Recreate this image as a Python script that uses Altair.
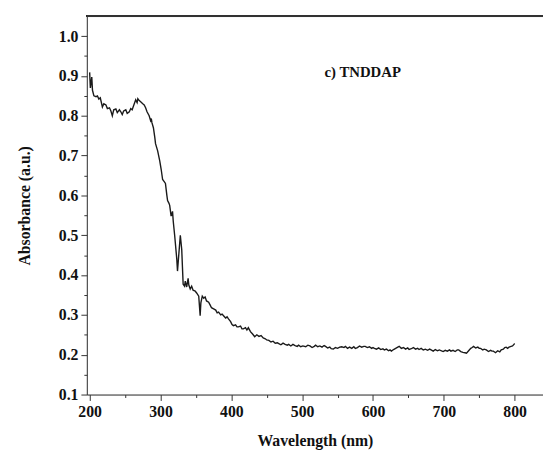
import altair as alt
import pandas as pd

wavelength = [200, 201, 203, 204, 206, 209, 211, 213, 215, 218, 220, 223, 225, 228, 230, 232, 234, 237, 239, 242,
              244, 246, 248, 251, 253, 256, 258, 260, 263, 265, 267, 268, 270, 272, 275, 277, 279, 281, 284, 286,
              287, 288, 290, 292, 293, 296, 299, 301, 303, 305, 307, 309, 310, 312, 313, 315, 317, 318, 320, 321,
              323, 324, 326, 328, 330, 331, 332, 334, 335, 337, 339, 340, 342, 344, 346, 349, 351, 354, 356, 357,
              359, 361, 363, 365, 368, 370, 372, 375, 378, 380, 382, 385, 387, 389, 392, 394, 396, 399, 401, 403,
              406, 408, 410, 413, 415, 417, 420, 422, 424, 427, 430, 433, 436, 439, 442, 445, 448, 450, 453, 456,
              459, 462, 465, 467, 470, 473, 476, 479, 481, 484, 487, 490, 493, 495, 498, 501, 505, 508, 511, 514,
              517, 519, 522, 525, 528, 531, 533, 536, 539, 541, 544, 547, 550, 553, 556, 559, 561, 564, 567, 570,
              573, 575, 578, 581, 584, 587, 589, 592, 595, 598, 600, 602, 605, 608, 611, 614, 616, 619, 622, 624,
              626, 629, 632, 635, 637, 640, 643, 646, 649, 651, 654, 657, 660, 663, 665, 668, 671, 674, 677, 680,
              682, 685, 688, 691, 694, 696, 699, 702, 705, 708, 710, 713, 716, 719, 721, 724, 727, 730, 732, 735,
              738, 740, 742, 745, 748, 750, 752, 755, 757, 760, 763, 766, 768, 770, 773, 776, 779, 781, 784, 786,
              788, 790, 792, 795, 797, 799, 800]
absorbance = [0.909, 0.870, 0.897, 0.864, 0.850, 0.848, 0.850, 0.842, 0.845, 0.822, 0.830, 0.827, 0.818, 0.820, 0.812, 0.800, 0.815, 0.817, 0.808, 0.815,
              0.810, 0.803, 0.812, 0.815, 0.806, 0.810, 0.818, 0.815, 0.830, 0.840, 0.833, 0.843, 0.838, 0.835, 0.830, 0.827, 0.820, 0.810, 0.800, 0.788,
              0.793, 0.782, 0.770, 0.745, 0.730, 0.712, 0.686, 0.665, 0.640, 0.635, 0.630, 0.600, 0.587, 0.580, 0.575, 0.548, 0.560, 0.535, 0.500, 0.480,
              0.440, 0.410, 0.455, 0.500, 0.464, 0.420, 0.377, 0.372, 0.385, 0.370, 0.392, 0.375, 0.365, 0.372, 0.362, 0.360, 0.355, 0.347, 0.298, 0.330,
              0.347, 0.342, 0.345, 0.335, 0.332, 0.325, 0.318, 0.315, 0.312, 0.305, 0.307, 0.300, 0.302, 0.298, 0.292, 0.295, 0.290, 0.283, 0.276, 0.273,
              0.275, 0.270, 0.270, 0.272, 0.265, 0.265, 0.268, 0.262, 0.268, 0.258, 0.252, 0.245, 0.250, 0.246, 0.248, 0.242, 0.240, 0.237, 0.236, 0.232,
              0.234, 0.229, 0.230, 0.228, 0.225, 0.229, 0.226, 0.224, 0.226, 0.222, 0.226, 0.223, 0.221, 0.224, 0.220, 0.222, 0.220, 0.224, 0.222, 0.218,
              0.221, 0.224, 0.220, 0.222, 0.219, 0.223, 0.221, 0.217, 0.219, 0.215, 0.214, 0.218, 0.216, 0.219, 0.220, 0.218, 0.221, 0.216, 0.219, 0.216,
              0.220, 0.216, 0.218, 0.222, 0.219, 0.221, 0.221, 0.218, 0.220, 0.216, 0.218, 0.216, 0.214, 0.217, 0.213, 0.215, 0.212, 0.214, 0.210, 0.212,
              0.209, 0.213, 0.216, 0.219, 0.221, 0.216, 0.218, 0.214, 0.217, 0.213, 0.215, 0.218, 0.214, 0.216, 0.213, 0.216, 0.212, 0.214, 0.211, 0.214,
              0.212, 0.209, 0.213, 0.210, 0.212, 0.210, 0.208, 0.211, 0.209, 0.212, 0.209, 0.211, 0.208, 0.212, 0.212, 0.208, 0.206, 0.205, 0.204, 0.210,
              0.216, 0.218, 0.221, 0.217, 0.219, 0.216, 0.216, 0.212, 0.214, 0.212, 0.208, 0.211, 0.209, 0.209, 0.205, 0.210, 0.207, 0.212, 0.214, 0.218,
              0.219, 0.216, 0.219, 0.221, 0.222, 0.226, 0.228]

x_major = [200, 300, 400, 500, 600, 700, 800]
x_minor = [250, 350, 450, 550, 650, 750]
y_major = [0.1, 0.2, 0.3, 0.4, 0.5, 0.6, 0.7, 0.8, 0.9, 1.0]
y_minor = [0.15, 0.25, 0.35, 0.45, 0.55, 0.65, 0.75, 0.85, 0.95]

df = pd.DataFrame({"wl": wavelength, "ab": absorbance})

W, H = 463, 384
FONT = "Liberation Serif"

xscale = alt.Scale(domain=[196, 840], nice=False, zero=False)
yscale = alt.Scale(domain=[0.1, 1.05], nice=False, zero=False)

common_axis = dict(domainColor="#333333", tickColor="#333333", grid=False,
                   labelFont=FONT, labelFontWeight="bold", labelFontSize=16,
                   labelColor="#111111", titleFont=FONT, titleFontWeight="bold",
                   titleFontSize=16, titleColor="#111111")

line = alt.Chart(df).mark_line(color="#1a1a1a", strokeWidth=1.4).encode(
    x=alt.X("wl:Q", scale=xscale,
            axis=alt.Axis(values=x_major, title="Wavelength (nm)", tickSize=6,
                          labelPadding=3, titlePadding=14, format="d", **common_axis)),
    y=alt.Y("ab:Q", scale=yscale,
            axis=alt.Axis(values=y_major, title="Absorbance (a.u.)", tickSize=6,
                          labelPadding=3, titlePadding=26, format=".1f", **common_axis)),
)

minor = alt.Chart(df).mark_line(opacity=0).encode(
    x=alt.X("wl:Q", scale=xscale,
            axis=alt.Axis(values=x_minor, labels=False, title=None, tickSize=3,
                          domain=False, orient="bottom", tickColor="#333333", grid=False)),
    y=alt.Y("ab:Q", scale=yscale,
            axis=alt.Axis(values=y_minor, labels=False, title=None, tickSize=3,
                          domain=False, orient="left", tickColor="#333333", grid=False)),
)

top = alt.Chart(df).mark_rule(color="#333333", strokeWidth=1).encode(
    x=alt.value(0), x2=alt.value(W), y=alt.value(0)
)

label = alt.Chart(pd.DataFrame({"t": ["c) TNDDAP"]})).mark_text(
    font=FONT, fontWeight="bold", fontSize=15, color="#111111", align="center", baseline="middle"
).encode(text="t:N", x=alt.value(280), y=alt.value(57))

chart = alt.layer(line, minor, top, label).resolve_axis(
    x="independent", y="independent"
).properties(
    width=W, height=H, padding={"left": 80, "top": 5, "right": 0, "bottom": 55},
    autosize=alt.AutoSizeParams(type="none"),
).configure_view(stroke=None).configure(background="white")

chart.save("out.html", embed_options={"renderer": "svg", "actions": False})
